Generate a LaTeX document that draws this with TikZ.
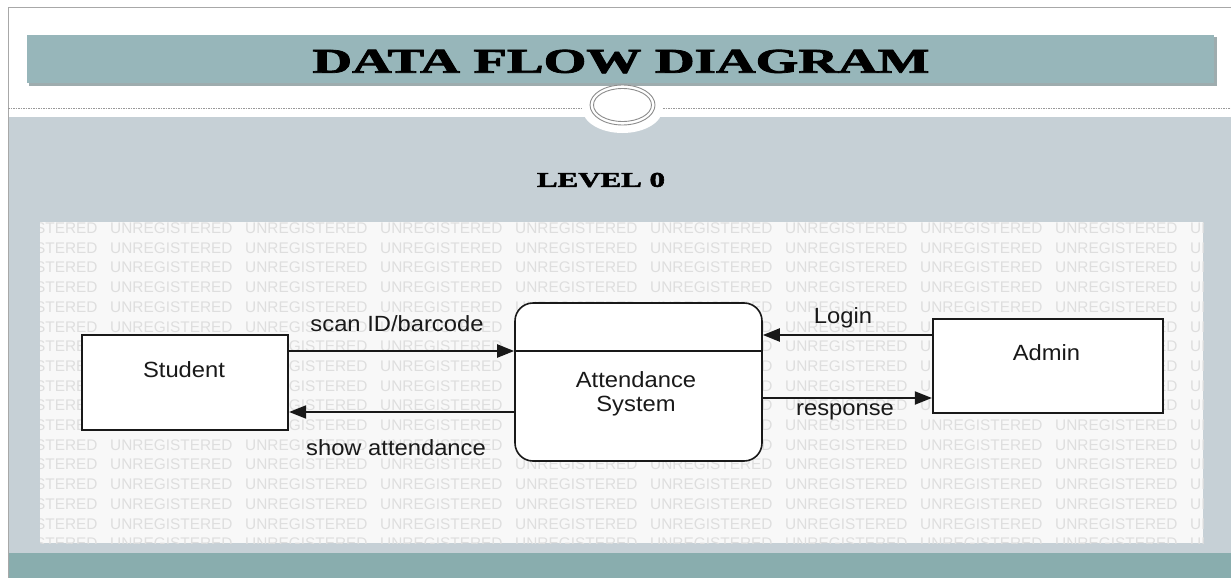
\documentclass[tikz,border=0pt]{standalone}
\usepackage{fontspec}
\usepackage{graphicx}
\usetikzlibrary{arrows.meta,calc}
\newfontfamily\diagfont{Liberation Sans}
\newfontfamily\headfont[BoldFeatures={FakeBold=2}]{Liberation Serif}

\definecolor{barteal}{RGB}{151,182,186}
\definecolor{barshadow}{RGB}{118,138,141}
\definecolor{bodygray}{RGB}{198,208,214}
\definecolor{footteal}{RGB}{137,173,174}
\definecolor{framegray}{RGB}{168,168,168}
\definecolor{panelwhite}{RGB}{248,248,248}
\definecolor{wmgray}{RGB}{222,222,222}
\definecolor{ink}{RGB}{25,25,25}

\newcommand\wide[1]{\scalebox{1.08}[1]{#1}}

\tikzset{
  entity/.style={draw=ink, line width=2.2pt, fill=white, inner sep=0pt},
  procbox/.style={draw=ink, line width=1.6pt, rounded corners=18pt, fill=white, inner sep=0pt},
  flow/.style={draw=ink, line width=2pt, -{Triangle[length=17pt,width=13pt]}},
  dtext/.style={font=\diagfont\fontsize{22}{24}\selectfont, inner sep=0pt, text=ink},
  wm/.style={font=\diagfont\fontsize{15.4}{16}\selectfont, text=wmgray, inner sep=0pt, anchor=base west},
}

\begin{document}
\begin{tikzpicture}[x=1pt,y=-1pt]
  \useasboundingbox (0,0) rectangle (1231,578);
  \fill[white] (0,0) rectangle (1231,578);

  % slide body and footer band
  \fill[bodygray] (8,117) rectangle (1231,553);
  \fill[footteal] (8,553) rectangle (1231,578);

  % slide frame
  \draw[framegray, line width=1pt] (8,578) -- (8,8) -- (1231,8);

  % title bar with its drop shadow
  \fill[barshadow, opacity=0.7] (29,37.5) rectangle (1217,85.5);
  \fill[barteal] (27,35) rectangle (1214,83);
  \node[inner sep=0pt] (title) at (621,61.5)
    {\resizebox{617pt}{23pt}{\headfont\bfseries DATA FLOW DIAGRAM}};

  % dotted rule with the ring ornament
  \draw[gray!80, line width=0.8pt, dash pattern=on 1.5pt off 1pt] (8,108) -- (1231,108);
  \fill[white] (622.5,109) ellipse [x radius=40pt, y radius=24pt];
  \draw[gray!90, line width=0.9pt] (622.5,105) ellipse [x radius=32.5pt, y radius=20pt];
  \draw[gray!90, line width=0.9pt] (622.5,105) ellipse [x radius=29pt, y radius=16.5pt];

  \node[inner sep=0pt] (level) at (601,180)
    {\resizebox{128pt}{14pt}{\headfont\bfseries LEVEL 0}};

  % diagram canvas with its repeated watermark
  \fill[panelwhite] (40,222) rectangle (1203,543);
  \begin{scope}
    \clip (40,222) rectangle (1203,543);
    \foreach \r in {0,...,16}{
      \foreach \c in {-1,...,8}{
        \node[wm, name=wm-\r-\c] at (110+135*\c, 233.5+19.7*\r) {UNREGISTERED};
      }
    }
  \end{scope}

  % external entities and the process
  \node[entity, minimum width=206pt, minimum height=95pt] (student) at (185,382.5) {};
  \node[entity, minimum width=230pt, minimum height=94pt] (admin) at (1048,366) {};
  \node[procbox, minimum width=247pt, minimum height=158pt] (sys) at (638.5,382) {};

  \node[dtext, anchor=base] (studentlbl) at (184,377) {\wide{Student}};
  \node[dtext, anchor=base] (adminlbl) at (1046.5,360) {\wide{Admin}};
  \node[dtext, align=center] (syslbl) at (636,394) {\wide{Attendance}\\\wide{System}};

  % flow end points
  \coordinate (scanA) at ([yshift=31.5pt]student.east);
  \coordinate (showA) at ([yshift=-29.5pt]student.east);
  \coordinate (loginA) at ([yshift=31pt]admin.west);
  \coordinate (respA) at ([yshift=-32pt]admin.west);

  % process divider
  \draw[ink, line width=1.4pt] (scanA -| sys.west) -- (scanA -| sys.east);

  % data flows
  \draw[flow] (scanA) -- (scanA -| sys.west);
  \draw[flow] (showA -| sys.west) -- (showA);
  \draw[flow] (loginA) -- (loginA -| sys.east);
  \draw[flow] (respA -| sys.east) -- (respA);

  \node[dtext, anchor=base] (scanlbl) at (397,331) {\wide{scan ID/barcode}};
  \node[dtext, anchor=base] (showlbl) at (396,455) {\wide{show attendance}};
  \node[dtext, anchor=base] (loginlbl) at (843,323) {\wide{Login}};
  \node[dtext, anchor=base] (resplbl) at (845,415) {\wide{response}};
\end{tikzpicture}
\end{document}
